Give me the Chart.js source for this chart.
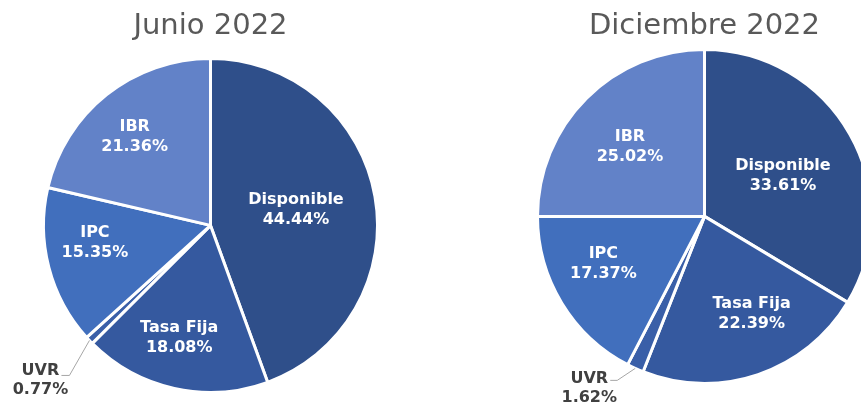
<!DOCTYPE html>
<html>
<head>
<meta charset="utf-8">
<script src="https://cdn.jsdelivr.net/npm/chart.js@4"></script>
<style>
  html, body { margin: 0; padding: 0; background: #fff; overflow: hidden; width: 861px; height: 402px; }
  canvas { position: absolute; top: 0; }
</style>
</head>
<body>
<canvas id="junio" width="422" height="402" style="left:0"></canvas>
<canvas id="diciembre" width="357" height="402" style="left:516px"></canvas>
<script>
const categories = ['Disponible', 'Tasa Fija', 'UVR', 'IPC', 'IBR'];
const junioValues = [44.44, 18.08, 0.77, 15.35, 21.36];
const diciembreValues = [33.61, 22.39, 1.62, 17.37, 25.02];
const sliceColors = ['#2F4F8A', '#35599F', '#3A5FA8', '#416FBD', '#6282C8'];

// draws "name / pct" inside each slice, or outside with a leader for tiny slices
const sliceLabels = {
  id: 'sliceLabels',
  afterDatasetsDraw(chart, args, opts) {
    const ctx = chart.ctx;
    const meta = chart.getDatasetMeta(0);
    const values = chart.data.datasets[0].data;
    ctx.save();
    ctx.font = 'bold 16px "DejaVu Sans", Verdana, sans-serif';
    ctx.textAlign = 'center';
    ctx.textBaseline = 'middle';
    meta.data.forEach((arc, i) => {
      const { x, y, startAngle, endAngle, outerRadius } =
        arc.getProps(['x', 'y', 'startAngle', 'endAngle', 'outerRadius'], true);
      const mid = (startAngle + endAngle) / 2;
      const name = chart.data.labels[i];
      const pct = values[i].toFixed(2) + '%';
      const place = opts.inside[i];
      if (place) {
        const a = mid + place[1] * Math.PI / 180;
        const r = outerRadius * place[0];
        const lx = x + Math.cos(a) * r;
        const ly = y + Math.sin(a) * r;
        ctx.fillStyle = '#ffffff';
        ctx.fillText(name, lx, ly - 10);
        ctx.fillText(pct, lx, ly + 10);
      } else {
        const o = opts.outside;
        const px = x + Math.cos(mid) * outerRadius;
        const py = y + Math.sin(mid) * outerRadius;
        const ex = px + o.elbow[0];
        const ey = py + o.elbow[1];
        const tx = ex - o.tail;
        ctx.strokeStyle = '#A6A6A6';
        ctx.lineWidth = 1;
        ctx.beginPath();
        ctx.moveTo(px, py);
        ctx.lineTo(ex, ey);
        ctx.lineTo(tx, ey);
        ctx.stroke();
        ctx.fillStyle = '#404040';
        ctx.fillText(name, tx - 21, ey + o.textDy);
        ctx.fillText(pct, tx - 21, ey + o.textDy + 19);
      }
    });
    ctx.restore();
  }
};

function makePie(canvasId, title, values, padding, titleGap, labelOpts) {
  const ctx = document.getElementById(canvasId).getContext('2d');
  return new Chart(ctx, {
    type: 'pie',
    data: {
      labels: categories,
      datasets: [{
        data: values,
        backgroundColor: sliceColors,
        borderColor: '#ffffff',
        borderWidth: 3
      }]
    },
    options: {
      responsive: false,
      animation: false,
      layout: { padding: padding },
      plugins: {
        legend: { display: false },
        tooltip: { enabled: false },
        title: {
          display: true,
          text: title,
          color: '#595959',
          font: { family: '"DejaVu Sans", Verdana, sans-serif', size: 29, weight: 'normal' },
          padding: { top: 9, bottom: titleGap }
        },
        sliceLabels: labelOpts
      }
    },
    plugins: [sliceLabels]
  });
}

makePie('junio', 'Junio 2022', junioValues,
  { left: 42, right: 43, bottom: 8 }, 13,
  {
    inside: [[0.52, 0], [0.70, 3], null, [0.70, 6], [0.70, -2]],
    outside: { elbow: [-20, 35], tail: 8, textDy: -5 }
  });

makePie('diciembre', 'Diciembre 2022', diciembreValues,
  { left: 20, right: 0, bottom: 17 }, 4,
  {
    inside: [[0.53, 2], [0.65, -7], null, [0.67, 6], [0.61, -2]],
    outside: { elbow: [-18, 12], tail: 7, textDy: -2 }
  });
</script>
</body>
</html>
